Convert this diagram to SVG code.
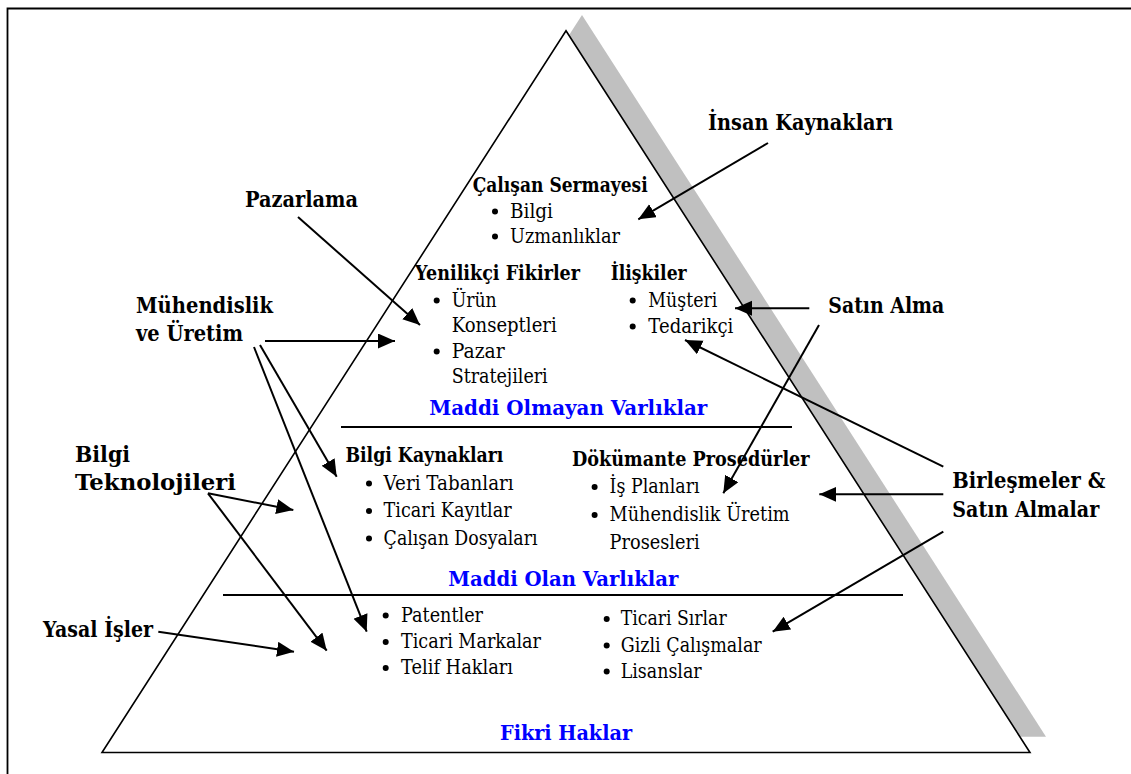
<svg xmlns="http://www.w3.org/2000/svg" width="1131" height="774" viewBox="0 0 1131 774">
<defs>
<style>
text{font-family:"DejaVu Serif","Liberation Serif",serif;fill:#000}
.r{font-size:19.5px}
.h{font-size:19.5px;font-weight:bold}
.o{font-size:22.5px;font-weight:bold}
.b{font-size:20px;font-weight:bold;fill:#0000ff}
.c line{stroke:#000;stroke-width:2;fill:none;marker-end:url(#ah)}
.dot{fill:#000}
</style>
<marker id="ah" markerUnits="userSpaceOnUse" markerWidth="18" markerHeight="16" refX="17" refY="7.5" orient="auto">
<path d="M0,0 L17,7.5 L0,15 z" fill="#000"/>
</marker>
</defs>
<rect x="0" y="0" width="1131" height="774" fill="#fff"/>
<path d="M7.5,774 V8.5 H1131" fill="none" stroke="#000" stroke-width="1.8"/>
<g id="pyramid">
<polygon points="582,15 1046,736.7 118,736.7" fill="#c0c0c0"/>
<polygon points="566,30.7 1030,752.5 102,752.5" fill="#fff" stroke="#000" stroke-width="1.6"/>
<line x1="341" y1="427" x2="792" y2="427" stroke="#000" stroke-width="1.8"/>
<line x1="223" y1="595" x2="903" y2="595" stroke="#000" stroke-width="1.8"/>
</g>
<g id="calisan">
<text class="h" x="472.7" y="191.7" textLength="175" lengthAdjust="spacingAndGlyphs">Çalışan Sermayesi</text>
<circle class="dot" cx="495" cy="211.5" r="3"/><text class="r" x="510" y="217.7" textLength="43" lengthAdjust="spacingAndGlyphs">Bilgi</text>
<circle class="dot" cx="495" cy="236.5" r="3"/><text class="r" x="510" y="242.7" textLength="110" lengthAdjust="spacingAndGlyphs">Uzmanlıklar</text>
</g>
<g id="yenilikci">
<text class="h" x="415" y="280" textLength="165" lengthAdjust="spacingAndGlyphs">Yenilikçi Fikirler</text>
<circle class="dot" cx="436.7" cy="300.5" r="3"/><text class="r" x="451.7" y="306.7" textLength="45" lengthAdjust="spacingAndGlyphs">Ürün</text>
<text class="r" x="451.7" y="331.7" textLength="105" lengthAdjust="spacingAndGlyphs">Konseptleri</text>
<circle class="dot" cx="436.7" cy="351.5" r="3"/><text class="r" x="451.7" y="357.7" textLength="53" lengthAdjust="spacingAndGlyphs">Pazar</text>
<text class="r" x="451.7" y="382.7" textLength="96" lengthAdjust="spacingAndGlyphs">Stratejileri</text>
</g>
<g id="iliskiler">
<text class="h" x="610.7" y="280" textLength="76" lengthAdjust="spacingAndGlyphs">İlişkiler</text>
<circle class="dot" cx="632.7" cy="300.5" r="3"/><text class="r" x="648.3" y="306.7" textLength="69" lengthAdjust="spacingAndGlyphs">Müşteri</text>
<circle class="dot" cx="632.7" cy="326.5" r="3"/><text class="r" x="648.3" y="332.7" textLength="85" lengthAdjust="spacingAndGlyphs">Tedarikçi</text>
</g>
<g id="maddi-olmayan">
<text class="b" x="429.3" y="415" textLength="278" lengthAdjust="spacingAndGlyphs">Maddi Olmayan Varlıklar</text>
</g>
<g id="bilgi-kaynaklari">
<text class="h" x="345.4" y="462" textLength="158" lengthAdjust="spacingAndGlyphs">Bilgi Kaynakları</text>
<circle class="dot" cx="369" cy="483.5" r="3"/><text class="r" x="383.6" y="489.6" textLength="130" lengthAdjust="spacingAndGlyphs">Veri Tabanları</text>
<circle class="dot" cx="369" cy="511" r="3"/><text class="r" x="383.6" y="517" textLength="128" lengthAdjust="spacingAndGlyphs">Ticari Kayıtlar</text>
<circle class="dot" cx="369" cy="538.5" r="3"/><text class="r" x="383.6" y="544.5" textLength="154" lengthAdjust="spacingAndGlyphs">Çalışan Dosyaları</text>
</g>
<g id="dokumante">
<text class="h" x="572" y="465.7" textLength="237.6" lengthAdjust="spacingAndGlyphs">Dökümante Prosedürler</text>
<circle class="dot" cx="594.6" cy="487" r="3"/><text class="r" x="609.6" y="493" textLength="90" lengthAdjust="spacingAndGlyphs">İş Planları</text>
<circle class="dot" cx="594.6" cy="515" r="3"/><text class="r" x="609.6" y="521" textLength="180" lengthAdjust="spacingAndGlyphs">Mühendislik Üretim</text>
<text class="r" x="609.6" y="548.6" textLength="90" lengthAdjust="spacingAndGlyphs">Prosesleri</text>
</g>
<g id="maddi-olan">
<text class="b" x="448.3" y="586" textLength="230" lengthAdjust="spacingAndGlyphs">Maddi Olan Varlıklar</text>
</g>
<g id="fikri-sol">
<circle class="dot" cx="385.7" cy="615.5" r="3"/><text class="r" x="401" y="621.7" textLength="82" lengthAdjust="spacingAndGlyphs">Patentler</text>
<circle class="dot" cx="385.7" cy="642" r="3"/><text class="r" x="401" y="648.3" textLength="140" lengthAdjust="spacingAndGlyphs">Ticari Markalar</text>
<circle class="dot" cx="385.7" cy="668" r="3"/><text class="r" x="401" y="674.3" textLength="112" lengthAdjust="spacingAndGlyphs">Telif Hakları</text>
</g>
<g id="fikri-sag">
<circle class="dot" cx="606.7" cy="619" r="3"/><text class="r" x="620.7" y="625" textLength="106" lengthAdjust="spacingAndGlyphs">Ticari Sırlar</text>
<circle class="dot" cx="606.7" cy="645.5" r="3"/><text class="r" x="620.7" y="651.7" textLength="141" lengthAdjust="spacingAndGlyphs">Gizli Çalışmalar</text>
<circle class="dot" cx="606.7" cy="671.5" r="3"/><text class="r" x="620.7" y="677.7" textLength="81" lengthAdjust="spacingAndGlyphs">Lisanslar</text>
</g>
<g id="fikri-haklar">
<text class="b" x="500" y="740" textLength="132" lengthAdjust="spacingAndGlyphs">Fikri Haklar</text>
</g>
<g id="insan-kaynaklari"><text class="o" x="708" y="130" textLength="185" lengthAdjust="spacingAndGlyphs">İnsan Kaynakları</text></g>
<g id="pazarlama"><text class="o" x="245" y="207" textLength="113" lengthAdjust="spacingAndGlyphs">Pazarlama</text></g>
<g id="muhendislik">
<text class="o" x="136" y="313" textLength="137" lengthAdjust="spacingAndGlyphs">Mühendislik</text>
<text class="o" x="136" y="341" textLength="107" lengthAdjust="spacingAndGlyphs">ve Üretim</text>
</g>
<g id="bilgi-teknolojileri">
<text class="o" x="75" y="461.7" textLength="55" lengthAdjust="spacingAndGlyphs">Bilgi</text>
<text class="o" x="75" y="490" textLength="161" lengthAdjust="spacingAndGlyphs">Teknolojileri</text>
</g>
<g id="yasal"><text class="o" x="43" y="637.3" textLength="110" lengthAdjust="spacingAndGlyphs">Yasal İşler</text></g>
<g id="satin-alma"><text class="o" x="828.3" y="312.7" textLength="116" lengthAdjust="spacingAndGlyphs">Satın Alma</text></g>
<g id="birlesmeler">
<text class="o" x="952.3" y="488.3" textLength="153" lengthAdjust="spacingAndGlyphs">Birleşmeler &amp;</text>
<text class="o" x="952.3" y="516.7" textLength="147" lengthAdjust="spacingAndGlyphs">Satın Almalar</text>
</g>
<g id="connectors" class="c">
<line x1="768" y1="143" x2="638.3" y2="219.3"/>
<line x1="298" y1="217" x2="420" y2="325"/>
<line x1="265" y1="341" x2="395" y2="341"/>
<line x1="260" y1="345" x2="336.7" y2="476.7"/>
<line x1="254" y1="347" x2="366.7" y2="631.7"/>
<line x1="208" y1="493.3" x2="293.3" y2="510"/>
<line x1="208" y1="493.3" x2="326.7" y2="650.7"/>
<line x1="158.3" y1="631.7" x2="294" y2="651.7"/>
<line x1="809.3" y1="308.3" x2="735" y2="308.3"/>
<line x1="819" y1="325" x2="723.3" y2="493.3"/>
<line x1="943.3" y1="466.7" x2="685" y2="340"/>
<line x1="943.3" y1="494.3" x2="819.3" y2="494.3"/>
<line x1="943.3" y1="531.7" x2="772.7" y2="631.7"/>
</g>
</svg>
